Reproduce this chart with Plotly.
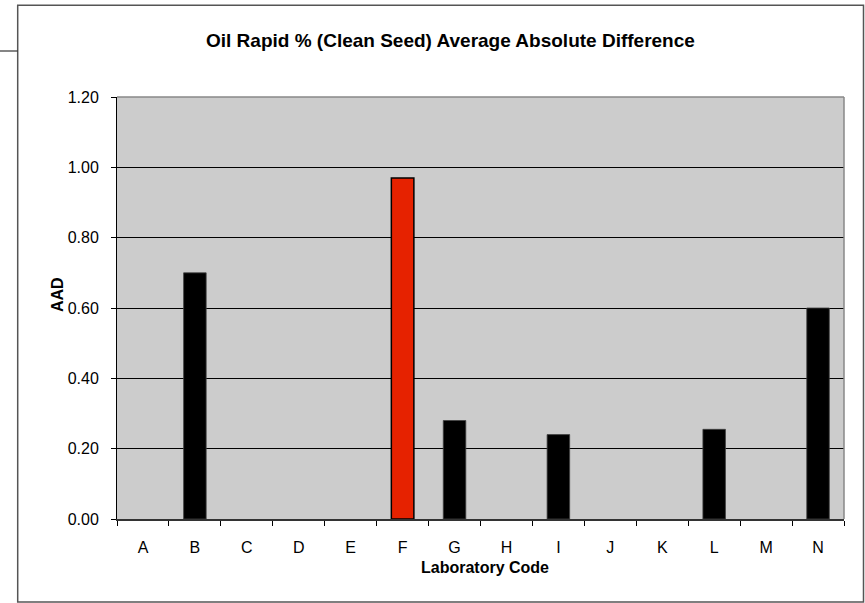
import plotly.graph_objects as go

# Lab codes and their average absolute difference (blank = no result)
labs = ["A", "B", "C", "D", "E", "F", "G", "H", "I", "J", "K", "L", "M", "N"]
aad = [None, 0.70, None, None, None, 0.97, 0.28, None, 0.24, None, None, 0.255, None, 0.60]
flagged = ["F"]

W, H = 865, 603
L, R, T, B = 117, 21, 97, 84
pw, ph = W - L - R, H - T - B


def px_x(x):
    return (x - L) / pw


def px_y(y):
    return (H - B - y) / ph


colors = ["#E62200" if lab in flagged else "#000000" for lab in labs]
line_w = [1.5 if lab in flagged else 0.8 for lab in labs]
line_c = ["#000000" if lab in flagged else "#404040" for lab in labs]

fig = go.Figure()
fig.add_trace(go.Bar(
    x=labs, y=aad,
    marker=dict(color=colors, line=dict(color=line_c, width=line_w)),
    hoverinfo="x+y",
))

font = "Liberation Sans, Arial, sans-serif"
fig.update_layout(
    width=W, height=H,
    margin=dict(l=L, r=R, t=T, b=B),
    paper_bgcolor="white",
    plot_bgcolor="#CCCCCC",
    bargap=0.566,
    showlegend=False,
    font=dict(family=font, size=16, color="black"),
    annotations=[
        dict(text="<b>Oil Rapid % (Clean Seed) Average Absolute Difference</b>",
             xref="paper", yref="paper", x=px_x(450.5), y=px_y(41),
             xanchor="center", yanchor="middle", showarrow=False,
             font=dict(size=19)),
        dict(text="<b>Laboratory Code</b>",
             xref="paper", yref="paper", x=px_x(485), y=px_y(567),
             xanchor="center", yanchor="middle", showarrow=False,
             font=dict(size=16)),
        dict(text="<b>AAD</b>", textangle=-90,
             xref="paper", yref="paper", x=px_x(57), y=px_y(295),
             xanchor="center", yanchor="middle", showarrow=False,
             font=dict(size=16)),
    ],
    shapes=[
        # outer chart frame
        dict(type="rect", xref="paper", yref="paper",
             x0=px_x(17.7), x1=px_x(863.5), y0=px_y(602), y1=px_y(5.3),
             line=dict(color="#555555", width=1.5), layer="below"),
        dict(type="line", xref="paper", yref="paper",
             x0=px_x(0), x1=px_x(17.7), y0=px_y(51), y1=px_y(51),
             line=dict(color="#333333", width=1.2)),
        # plot area border (top / right in grey)
        dict(type="line", xref="paper", yref="paper",
             x0=0, x1=1, y0=1, y1=1, line=dict(color="#888888", width=1.5)),
        dict(type="line", xref="paper", yref="paper",
             x0=1, x1=1, y0=0, y1=1, line=dict(color="#888888", width=1.5)),
    ],
)

fig.update_xaxes(
    type="category", range=[-0.5, 13.5],
    showgrid=False, showline=True, linecolor="#333333", linewidth=1.5,
    ticks="outside", tickson="boundaries", ticklen=5, tickcolor="black",
    tickfont=dict(size=16), ticklabelstandoff=13,
)
fig.update_yaxes(
    range=[0, 1.2], dtick=0.2, tickformat=".2f",
    showgrid=True, gridcolor="black", gridwidth=1,
    showline=True, linecolor="black", linewidth=1,
    ticks="outside", ticklen=5, tickcolor="black",
    tickfont=dict(size=16), ticklabelstandoff=9, zeroline=False,
)

fig.write_html("out.html", config={"displayModeBar": False},
               post_script="document.body.style.margin='0';")
